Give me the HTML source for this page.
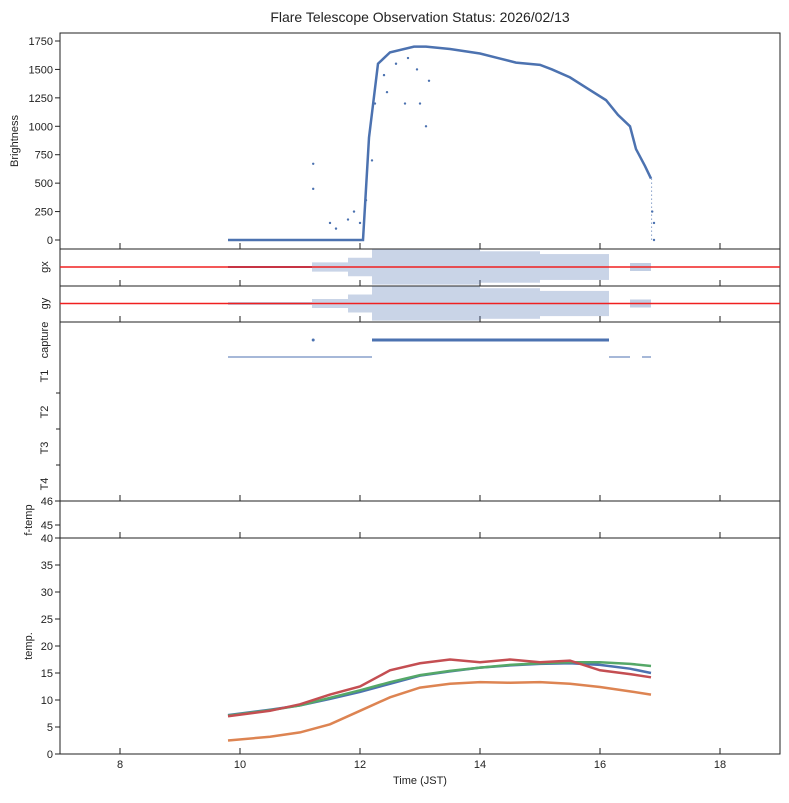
<!DOCTYPE html>
<html><head><meta charset="utf-8"><style>
body{margin:0;background:#fff;font-family:"Liberation Sans",sans-serif}
svg text{font-family:"Liberation Sans",sans-serif;fill:#222}
</style></head><body>
<svg id="c" width="789" height="798" viewBox="0 0 789 798">
<text x="420" y="22" font-size="14" text-anchor="middle">Flare Telescope Observation Status: 2026/02/13</text>
<g id="g"></g>
</svg>
<script>
const xTicks=[8,10,12,14,16,18];
const brT=[9.8,11.2,12.05,12.15,12.3,12.5,12.9,13.1,13.5,14.0,14.3,14.6,15.0,15.2,15.5,15.8,16.1,16.3,16.5,16.6,16.75,16.85];
const brV=[0,0,0,900,1550,1650,1700,1700,1680,1640,1600,1560,1540,1500,1430,1330,1230,1100,1000,800,650,540];
const brScT=[11.22,11.22,11.5,11.6,11.8,11.9,12.0,12.1,12.2,12.25,12.4,12.45,12.6,12.75,12.8,12.95,13.0,13.1,13.15,16.87,16.9,16.9];
const brScV=[670,450,150,100,180,250,150,350,700,1200,1450,1300,1550,1200,1600,1500,1200,1000,1400,250,150,0];
const brTicks=[0,250,500,750,1000,1250,1500,1750];
const gStart=9.8, gQuietEnd=11.2, gEnd=16.15;
const gBandT=[11.2,11.8,12.2,13,14,15,16.15];
const gBandA=[0.25,0.5,0.95,0.95,0.85,0.7,0.55];
const tempTicks=[0,5,10,15,20,25,30,35,40];
const tT=[9.8,10.5,11,11.5,12,12.5,13,13.5,14,14.5,15,15.5,16,16.5,16.85];
const tBlue=[7.2,8.2,9,10.2,11.5,13,14.5,15.3,16,16.4,16.7,16.8,16.5,15.8,15];
const tGreen=[7.1,8.1,9,10.4,11.8,13.3,14.6,15.4,16,16.5,16.8,17,17,16.7,16.3];
const tRed=[7,8,9.2,11,12.5,15.5,16.8,17.5,17,17.5,17,17.3,15.5,14.8,14.2];
const tOrange=[2.5,3.2,4,5.5,8,10.5,12.3,13,13.3,13.2,13.3,13,12.4,11.6,11];
const NS='http://www.w3.org/2000/svg';
const G=document.getElementById('g');
function X(t){return 60+(t-7)*60;}
function el(tag,a,p){const e=document.createElementNS(NS,tag);for(const k in a)e.setAttribute(k,a[k]);(p||G).appendChild(e);return e;}
const panels=[[33,249],[249,286],[286,322],[322,501],[501,538],[538,754]];
panels.forEach((p,i)=>{
 const r=el('rect',{x:60,y:p[0],width:720,height:p[1]-p[0],fill:'none',stroke:'#222','stroke-width':1});
 
 
 xTicks.forEach(t=>{el('line',{x1:X(t),x2:X(t),y1:p[1],y2:p[1]-6,stroke:'#222'});});
});
xTicks.forEach(t=>{const tx=el('text',{x:X(t),y:768,'font-size':11,'text-anchor':'middle'});tx.textContent=t;
 
 });
const xt=el('text',{x:420,y:784,'font-size':11,'text-anchor':'middle'});xt.textContent='Time (JST)';


function ylab(txt,y,x){x=x||20;const t=el('text',{x:x,y:y,'font-size':11,'text-anchor':'middle',transform:`rotate(-90 ${x} ${y})`});t.textContent=txt;
 
 return t;}
function BY(v){return 240-v*199/1750;}
brTicks.forEach(v=>{el('line',{x1:60,x2:55,y1:BY(v),y2:BY(v),stroke:'#222'});const t=el('text',{x:53,y:BY(v)+4,'font-size':11,'text-anchor':'end'});t.textContent=v;
 
 });
ylab('Brightness',141,18);
const bp=el('polyline',{points:brT.map((t,i)=>X(t)+','+BY(brV[i])).join(' '),fill:'none',stroke:'#4c72b0','stroke-width':2.5});


brScT.forEach((t,i)=>{const c=el('circle',{cx:X(t),cy:BY(brScV[i]),r:1.2,fill:'#4c72b0'});
 
 });
el('line',{x1:X(16.86),x2:X(16.86),y1:BY(540),y2:BY(0),stroke:'#4c72b0','stroke-width':1,'stroke-dasharray':'1 3'});
[[249,286,'gx'],[286,322,'gy']].forEach(([a,b,n])=>{
 const mid=(a+b)/2-0.5, h=(b-a)/2;
 ylab(n,mid,48);
 el('line',{x1:X(gStart),x2:X(gQuietEnd),y1:mid,y2:mid,stroke:'#4c72b0','stroke-width':2});
 for(let i=0;i<gBandT.length-1;i++){
  const r=el('rect',{x:X(gBandT[i]),y:mid-h*gBandA[i],width:X(gBandT[i+1])-X(gBandT[i]),height:2*h*gBandA[i],fill:'#4c72b0','fill-opacity':0.3});
  
  
 }
 el('rect',{x:X(16.5),y:mid-4,width:X(16.85)-X(16.5),height:8,fill:'#4c72b0','fill-opacity':0.35});
 const rl=el('line',{x1:60,x2:780,y1:mid,y2:mid,stroke:'#f02020','stroke-width':1.5});
 
 
});
[['capture',340],['T1',376],['T2',412],['T3',448],['T4',484]].forEach(([n,y])=>{ylab(n,y,48);});
[375,411,447].forEach(y=>el('line',{x1:60,x2:56,y1:y+18,y2:y+18,stroke:'#222'}));
el('circle',{cx:X(11.22),cy:340,r:1.5,fill:'#4c72b0'});
const cap=el('line',{x1:X(12.2),x2:X(16.15),y1:340,y2:340,stroke:'#4c72b0','stroke-width':3});


const t1=el('line',{x1:X(9.8),x2:X(12.2),y1:357,y2:357,stroke:'#4c72b0','stroke-width':1});


el('line',{x1:X(16.15),x2:X(16.5),y1:357,y2:357,stroke:'#4c72b0'});
el('line',{x1:X(16.7),x2:X(16.85),y1:357,y2:357,stroke:'#4c72b0'});
[[46,501],[45,525],[40,538]].forEach(([v,y])=>{el('line',{x1:60,x2:55,y1:y,y2:y,stroke:'#222'});const t=el('text',{x:53,y:y+4,'font-size':11,'text-anchor':'end'});t.textContent=v;
 
 });
ylab('f-temp',520,32);
function TY(v){return 754-v*5.4;}
tempTicks.forEach(v=>{if(v!==40){el('line',{x1:60,x2:55,y1:TY(v),y2:TY(v),stroke:'#222'});const t=el('text',{x:53,y:TY(v)+4,'font-size':11,'text-anchor':'end'});t.textContent=v;
 
 }});
ylab('temp.',646,32);
[['#4c72b0',tBlue,'temp-blue'],['#55a868',tGreen,'temp-green'],['#dd8452',tOrange,'temp-orange'],['#c44e52',tRed,'temp-red']].forEach(([c,arr,n])=>{
 const p=el('polyline',{points:tT.map((t,i)=>X(t)+','+TY(arr[i])).join(' '),fill:'none',stroke:c,'stroke-width':2.5});
 
 
});
</script>
</body></html>
